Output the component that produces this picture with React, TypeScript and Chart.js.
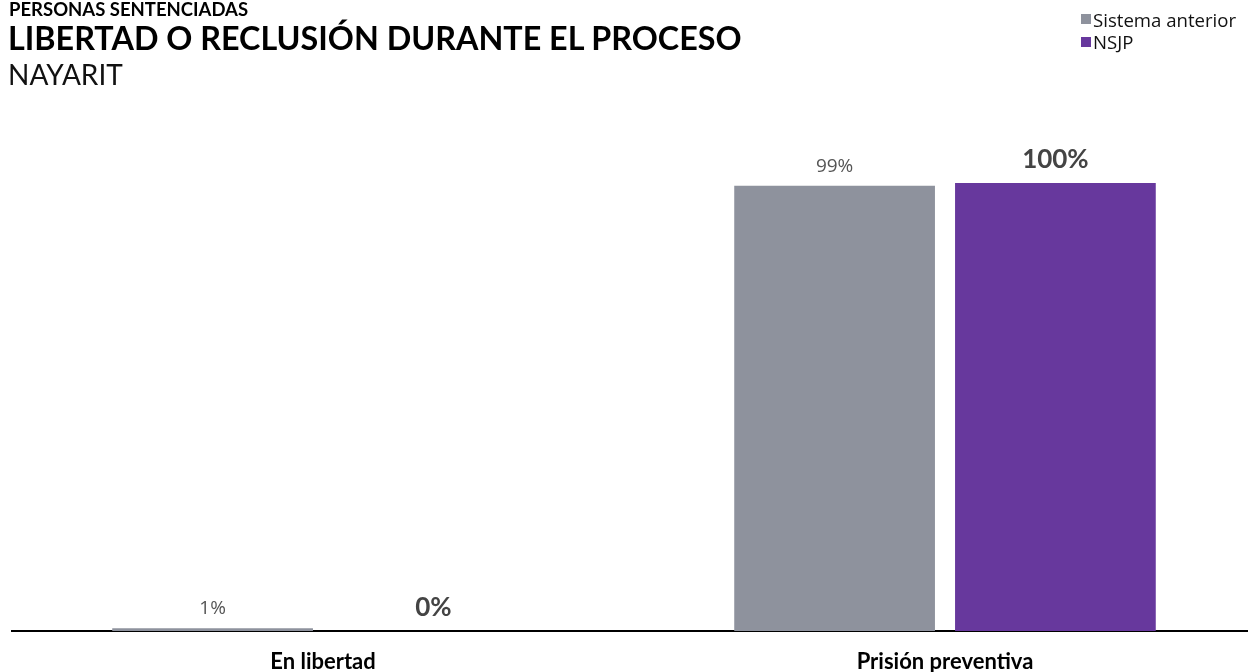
import React, { useEffect, useRef } from "react";
import { Chart, registerables } from "chart.js";

Chart.register(...registerables);

const categories = ["En libertad", "Prisión preventiva"];
const seriesNames = ["Sistema anterior", "NSJP"];
const sistemaAnterior = [0.6, 99.4];
const nsjp = [0, 100];
const seriesColors = ["#8e929d", "#67389d"];
const titleSmall = "PERSONAS SENTENCIADAS";
const titleMain = "LIBERTAD O RECLUSIÓN DURANTE EL PROCESO";
const titleSub = "NAYARIT";

const labelStyles = [
  { font: '19px "Open Sans"', color: "#555555", offset: 14 },
  { font: 'bold 26px Lato', color: "#444444", offset: 15.5 },
];

const valueLabelPlugin = {
  id: "valueLabels",
  afterDatasetsDraw(chart: any) {
    const ctx = chart.ctx;
    chart.data.datasets.forEach((ds: any, i: number) => {
      const meta = chart.getDatasetMeta(i);
      const st = labelStyles[i];
      meta.data.forEach((el: any, j: number) => {
        const v = ds.data[j];
        ctx.save();
        ctx.font = st.font;
        ctx.fillStyle = st.color;
        ctx.textAlign = "center";
        ctx.textBaseline = "alphabetic";
        ctx.fillText(Math.round(v) + "%", el.x, el.y - st.offset);
        ctx.restore();
      });
    });
  },
};

export default function App() {
  const ref = useRef<HTMLCanvasElement | null>(null);
  useEffect(() => {
    if (!ref.current) return;
    const chart = new Chart(ref.current, {
      type: "bar",
      data: {
        labels: categories,
        datasets: [
          {
            label: seriesNames[0],
            data: sistemaAnterior,
            backgroundColor: seriesColors[0],
            categoryPercentage: 0.71,
            barPercentage: 0.909,
          },
          {
            label: seriesNames[1],
            data: nsjp,
            backgroundColor: seriesColors[1],
            categoryPercentage: 0.71,
            barPercentage: 0.909,
          },
        ],
      },
      options: {
        responsive: false,
        animation: false,
        devicePixelRatio: 1,
        layout: { padding: { left: 12, top: 183, right: 0, bottom: 0 } },
        plugins: {
          legend: { display: false },
          tooltip: { enabled: false },
          title: { display: false },
        },
        scales: {
          x: {
            grid: { display: false, drawTicks: false },
            border: { display: true, color: "#000000", width: 2 },
            ticks: {
              color: "#000000",
              font: { family: "Lato", size: 22, weight: "bold" },
              padding: 18,
            },
            afterFit: (s: any) => {
              s.height = 41;
            },
          },
          y: { display: false, min: 0, max: 100 },
        },
      },
      plugins: [valueLabelPlugin],
    });
    return () => chart.destroy();
  }, []);

  const legendText: React.CSSProperties = {
    position: "absolute",
    left: 1093,
    fontFamily: '"Open Sans"',
    fontSize: 18.6,
    lineHeight: 1,
    color: "#111",
    whiteSpace: "nowrap",
  };

  return (
    <div
      style={{
        position: "absolute",
        left: 0,
        top: 0,
        width: 1248,
        height: 672,
        overflow: "hidden",
        background: "#fff",
      }}
    >
      <canvas
        ref={ref}
        width={1256}
        height={672}
        style={{ position: "absolute", left: 0, top: 0, width: 1256, height: 672 }}
      />
      <div
        style={{
          position: "absolute",
          left: 9,
          top: 0,
          fontFamily: "Lato",
          fontWeight: "bold",
          fontSize: 18.5,
          lineHeight: 1,
          color: "#000",
          whiteSpace: "nowrap",
        }}
      >
        {titleSmall}
      </div>
      <div
        style={{
          position: "absolute",
          left: 8,
          top: 22,
          fontFamily: "Lato",
          fontWeight: "bold",
          fontSize: 32.3,
          lineHeight: 1,
          color: "#000",
          whiteSpace: "nowrap",
        }}
      >
        {titleMain}
      </div>
      <div
        style={{
          position: "absolute",
          left: 8,
          top: 60,
          fontFamily: "Lato",
          fontSize: 28,
          lineHeight: 1,
          color: "#111",
          whiteSpace: "nowrap",
        }}
      >
        {titleSub}
      </div>
      <div style={{ position: "absolute", left: 1081, top: 14, width: 10, height: 10, background: seriesColors[0] }} />
      <div style={{ ...legendText, top: 10.5 }}>{seriesNames[0]}</div>
      <div style={{ position: "absolute", left: 1081, top: 37, width: 10, height: 10, background: seriesColors[1] }} />
      <div style={{ ...legendText, top: 32.5 }}>{seriesNames[1]}</div>
    </div>
  );
}
